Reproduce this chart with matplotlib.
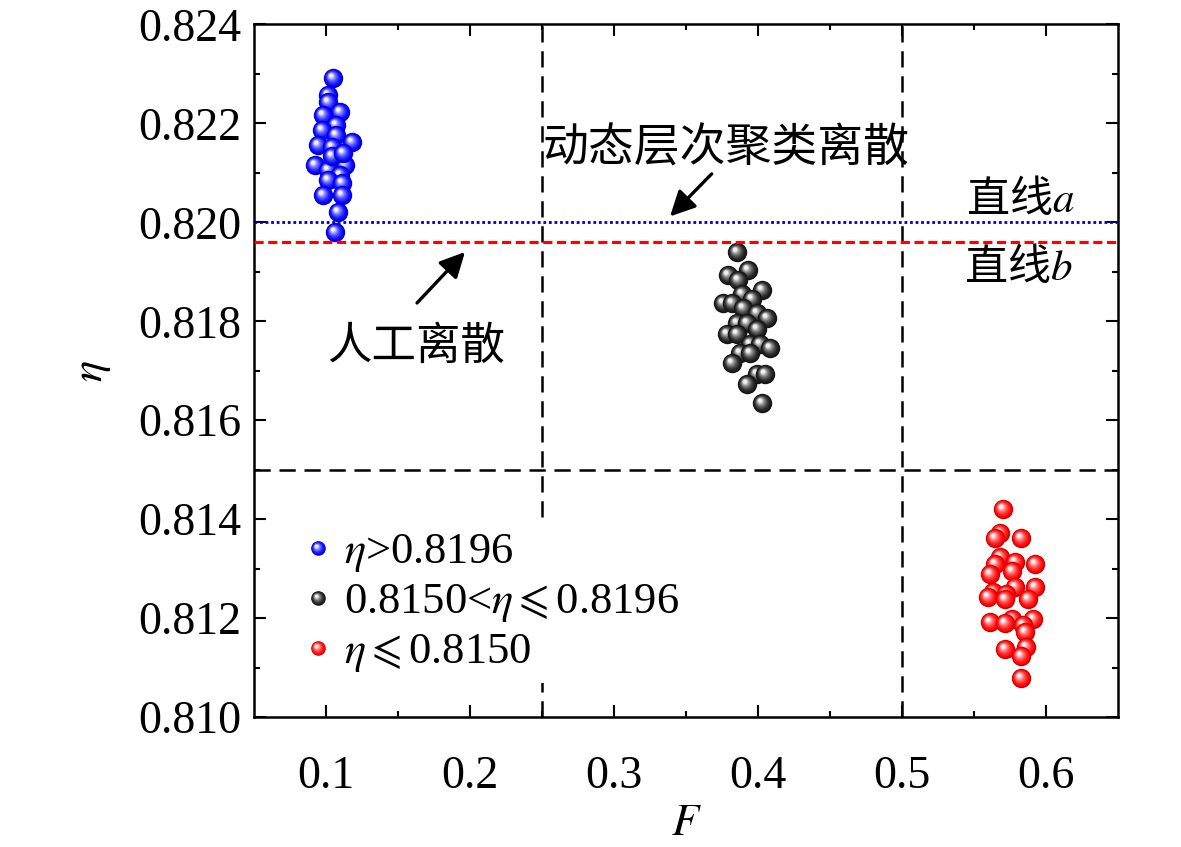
import numpy as np
import matplotlib
matplotlib.use('Agg')
import matplotlib.pyplot as plt
from matplotlib.path import Path
from matplotlib.lines import Line2D
from matplotlib.legend_handler import HandlerTuple

plt.rcParams['font.family'] = ['Liberation Serif', 'Noto Sans CJK SC', 'DejaVu Sans']
plt.rcParams['mathtext.fontset'] = 'stix'

# cluster 1: eta > 0.8196
blue_F = [0.1051, 0.1016, 0.1016, 0.1100, 0.0981, 0.1067, 0.0970, 0.1071, 0.1178,
          0.0947, 0.1040, 0.0924, 0.1132, 0.1016, 0.1097, 0.1016, 0.1109, 0.0981,
          0.1109, 0.1086, 0.1063, 0.1040, 0.1120]
blue_eta = [0.82291, 0.82257, 0.82244, 0.82224, 0.82217, 0.82197, 0.82187, 0.82176, 0.82163,
            0.82156, 0.82153, 0.82116, 0.82116, 0.82106, 0.82096, 0.82085, 0.82079, 0.82055,
            0.82055, 0.82021, 0.81981, 0.82135, 0.82140]

# cluster 2: 0.8150 < eta <= 0.8196
black_F = [0.3852, 0.3933, 0.3794, 0.3863, 0.4026, 0.3887, 0.3956, 0.3759, 0.3817,
           0.3898, 0.3991, 0.4060, 0.3852, 0.3921, 0.3991, 0.3782, 0.3852, 0.3944,
           0.4014, 0.4083, 0.3875, 0.3944, 0.3817, 0.3991, 0.4049, 0.3921, 0.4026]
black_eta = [0.81940, 0.81903, 0.81893, 0.81883, 0.81863, 0.81856, 0.81846, 0.81836, 0.81836,
             0.81826, 0.81816, 0.81806, 0.81796, 0.81796, 0.81785, 0.81775, 0.81775, 0.81755,
             0.81755, 0.81745, 0.81735, 0.81735, 0.81715, 0.81694, 0.81694, 0.81674, 0.81634]

# cluster 3: eta <= 0.8150
red_F = [0.5703, 0.5681, 0.5646, 0.5826, 0.5681, 0.5646, 0.5785, 0.5924, 0.5611,
         0.5762, 0.5634, 0.5785, 0.5924, 0.5600, 0.5724, 0.5875, 0.5713, 0.5611,
         0.5762, 0.5912, 0.5713, 0.5840, 0.5852, 0.5713, 0.5863, 0.5829, 0.5824]
red_eta = [0.81421, 0.81371, 0.81361, 0.81361, 0.81324, 0.81310, 0.81313, 0.81310, 0.81290,
           0.81296, 0.81253, 0.81263, 0.81263, 0.81243, 0.81249, 0.81239, 0.81239, 0.81192,
           0.81199, 0.81199, 0.81189, 0.81185, 0.81172, 0.81138, 0.81141, 0.81124, 0.81079]

line_a = 0.8200
line_b = 0.8196
F_split = [0.25, 0.50]
eta_split = 0.8150

labels = [r'$\eta$>0.8196', r'0.8150<$\eta\leqslant$0.8196', r'$\eta\leqslant$0.8150']


def ball_layers(base, n=8):
    # concentric circles drifting to upper-left, getting lighter -> shaded sphere
    base = np.array(matplotlib.colors.to_rgb(base))
    out = []
    for k in range(n + 1):
        t = k / n
        r = 1.0 - 0.78 * t
        c = np.array([-0.26, 0.30]) * t
        circ = Path.circle(center=c, radius=r)
        verts = np.vstack([[1.0, 1.0], circ.vertices])
        codes = np.concatenate([[Path.MOVETO], circ.codes])
        w = 0.94 * t ** 1.8
        col = base * (1 - w) + np.ones(3) * w
        if k == 0:
            col = base * 0.82
        out.append((Path(verts, codes), col))
    return out


def draw_balls(ax, xs, ys, color, ms=14):
    layers = ball_layers(color)
    for x, y in zip(xs, ys):
        for i, (p, c) in enumerate(layers):
            ax.plot([x], [y], ls='none', marker=p, ms=ms if i == 0 else ms * 0.97,
                    mfc=c, mec='none', mew=0, zorder=3)


def legend_handle(color, ms=10.5):
    return tuple(Line2D([], [], ls='none', marker=p, ms=ms, mfc=c, mec='none', mew=0)
                 for p, c in ball_layers(color))


fig = plt.figure(figsize=(11.81, 8.47), dpi=100)
ax = fig.add_axes([0.2151, 0.1535, 0.7316, 0.8176])

for xv in F_split:
    ax.axvline(xv, color='black', lw=1.8, ls=(0, (6.5, 3.5)), zorder=1)
ax.axhline(eta_split, color='black', lw=1.8, ls=(0, (6.5, 3.5)), zorder=1)

draw_balls(ax, blue_F, blue_eta, '#0000ff')
draw_balls(ax, black_F, black_eta, '#1a1a1a')
draw_balls(ax, red_F, red_eta, '#ff0000')

ax.axhline(line_a, color='#0000b4', lw=2.0, ls=(0, (1, 1)), zorder=4)
ax.axhline(line_b, color='#ff0000', lw=2.2, ls=(0, (3, 1.5)), zorder=4)

arrow_kw = dict(arrowstyle='-|>', color='black', lw=2.4, mutation_scale=38,
                shrinkA=0, shrinkB=0)
ax.text(0.3778, 0.8215, '动态层次聚类离散', fontsize=33, ha='center', va='center',
        family='Noto Sans CJK SC')
ax.annotate('', xy=(0.3389, 0.82012), xytext=(0.3678, 0.82098), arrowprops=arrow_kw)
ax.text(0.1625, 0.81751, '人工离散', fontsize=32, ha='center', va='center',
        family='Noto Sans CJK SC')
ax.annotate('', xy=(0.1965, 0.81940), xytext=(0.1632, 0.81837), arrowprops=arrow_kw)
ax.text(0.582, 0.82045, '直线$a$', fontsize=31, ha='center', va='center',
        family='Noto Sans CJK SC')
ax.text(0.5806, 0.81907, '直线$b$', fontsize=31, ha='center', va='center',
        family='Noto Sans CJK SC')

handles = [legend_handle('#0000ff'), legend_handle('#1a1a1a'), legend_handle('#ff0000')]
leg = ax.legend(handles, labels, handler_map={tuple: HandlerTuple(ndivide=1, pad=0)},
                loc='upper left', bbox_to_anchor=(0.024, 0.312), fontsize=32,
                frameon=True, facecolor='white', edgecolor='none', framealpha=1,
                handlelength=0.55, handletextpad=0.3, labelspacing=0.18, borderpad=0.2)
leg.set_zorder(5)

ax.set_xlim(0.05, 0.65)
ax.set_ylim(0.810, 0.824)
ax.set_xticks([0.1, 0.2, 0.3, 0.4, 0.5, 0.6])
ax.set_xticks(np.arange(0.15, 0.65, 0.1), minor=True)
ax.set_yticks(np.arange(0.810, 0.8241, 0.002))
ax.set_yticks(np.arange(0.811, 0.824, 0.002), minor=True)
ax.set_yticklabels(['%.3f' % v for v in np.arange(0.810, 0.8241, 0.002)])
ax.tick_params(which='both', direction='in', top=True, right=True, labelsize=33, width=1.5)
ax.tick_params(which='major', length=8.5)
ax.tick_params(axis='y', which='major', pad=9)
ax.tick_params(axis='x', which='major', pad=28)
ax.tick_params(which='minor', length=4.5)
for s in ax.spines.values():
    s.set_linewidth(1.8)

ax.set_xlabel('$F$', fontsize=32, labelpad=4)
ax.set_ylabel(r'$\eta$', fontsize=32, labelpad=18)

fig.savefig('out.png', dpi=100)
